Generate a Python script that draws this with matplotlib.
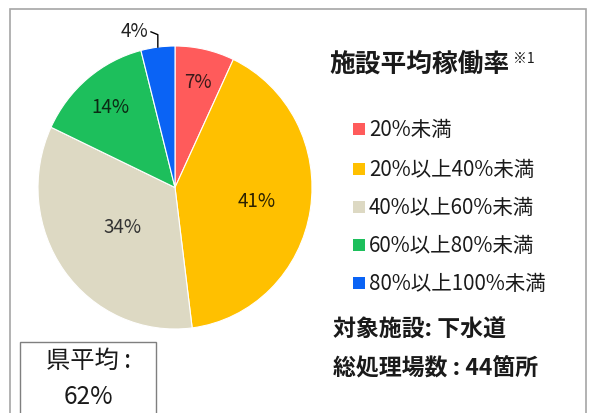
import matplotlib.pyplot as plt
import matplotlib.patches as mpatches
import numpy as np

plt.rcParams['font.family'] = ['Noto Sans CJK JP', 'DejaVu Sans']

categories = ['20%未満', '20%以上40%未満', '40%以上60%未満', '60%以上80%未満', '80%以上100%未満']
shares = [7, 41, 34, 14, 4]
colors = ['#FF5B5B', '#FFC000', '#DDD9C3', '#1DBF5C', '#0A63F5']
label_colors = ['#3a1a1a', '#2b2100', '#333333', '#0b2a14', '#222222']
label_dist = [0.77, 0.6, 0.47, 0.74, None]

W, H = 594, 414
fig = plt.figure(figsize=(W / 100, H / 100), dpi=100)

# outer frame
fig.add_artist(mpatches.Rectangle((10 / W, -0.05), 576 / W, (404 / H) + 0.05,
                                  transform=fig.transFigure, fill=False,
                                  edgecolor='#a6a6a6', linewidth=1.2))

ax = fig.add_axes([38 / W, (H - 330) / H, 274 / W, 283 / H])
wedges, _ = ax.pie(shares, colors=colors, startangle=90, counterclock=False,
                   wedgeprops=dict(linewidth=0.8, edgecolor='white'))
ax.set_aspect('auto')
ax.set_xlim(-1, 1)
ax.set_ylim(-1, 1)

for w, s, d, c in zip(wedges, shares, label_dist, label_colors):
    if d is None:
        continue
    ang = np.deg2rad((w.theta1 + w.theta2) / 2)
    ax.text(d * np.cos(ang), d * np.sin(ang), f'{s}%', ha='center', va='center',
            fontsize=13.5, color=c)

# small slice label with leader line
w = wedges[4]
ang = np.deg2rad((w.theta1 + w.theta2) / 2)
ex, ey = np.cos(ang), np.sin(ang)
ax.plot([ex, ex, ex - 0.05], [ey, 1.08, 1.10], color='black',
        linewidth=1, clip_on=False)
ax.text(ex - 0.07, 1.11, f'{shares[4]}%', ha='right', va='center', fontsize=13.5,
        color='#222222')

# title
fig.text(329 / W, 1 - 64 / H, '施設平均稼働率', fontsize=18.5, fontweight='bold',
         ha='left', va='center', color='#1a1a1a')
fig.text(513 / W, 1 - 59 / H, '※1', fontsize=10, ha='left', va='center', color='#1a1a1a')

# legend
rows_y = [130, 170, 208, 246, 284]
for cat, col, yy in zip(categories, colors, rows_y):
    fig.add_artist(mpatches.Rectangle((353 / W, 1 - (yy + 6) / H), 12 / W, 12 / H,
                                      transform=fig.transFigure, facecolor=col,
                                      edgecolor='none'))
    fig.text(369 / W, 1 - yy / H, cat, fontsize=14.8, ha='left', va='center',
             color='#1a1a1a')

fig.text(333 / W, 1 - 330 / H, '対象施設: 下水道', fontsize=16.5, fontweight='bold',
         ha='left', va='center', color='#1a1a1a')
fig.text(333 / W, 1 - 368 / H, '総処理場数 : 44箇所', fontsize=16.5, fontweight='bold',
         ha='left', va='center', color='#1a1a1a')

# prefecture average box
fig.add_artist(mpatches.Rectangle((20 / W, -0.05), 136 / W, (71 / H) + 0.05,
                                  transform=fig.transFigure, fill=False,
                                  edgecolor='#7f7f7f', linewidth=1.0))
fig.text(88 / W, 1 - 361 / H, '県平均 :', fontsize=17.5, ha='center', va='center',
         color='#1a1a1a')
fig.text(88 / W, 1 - 397 / H, '62%', fontsize=17.5, ha='center', va='center',
         color='#1a1a1a')

fig.savefig('out.png', dpi=100, facecolor='white')
